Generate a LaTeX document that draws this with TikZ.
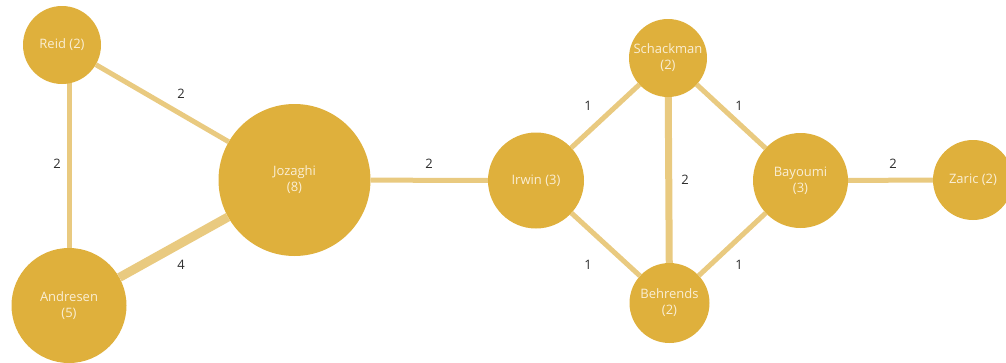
\documentclass[tikz,border=0pt]{standalone}
\usepackage{fontspec}
\setmainfont{Open Sans}
\usepackage{tikz}
\usetikzlibrary{backgrounds}
\definecolor{P}{RGB}{223,176,60}
\definecolor{E}{RGB}{233,202,128}
\definecolor{T}{RGB}{250,238,212}
\definecolor{W}{RGB}{45,45,45}
\tikzset{
  person/.style={circle,fill=P,inner sep=0pt,minimum size=#1,align=center,
    text=T,font=\fontsize{13}{16}\selectfont},
  tie/.style={draw=E,line width=#1},
  tie/.default=5pt,
  weight/.style={text=W,inner sep=0pt,font=\fontsize{13}{16}\selectfont}
}
\begin{document}
\begin{tikzpicture}[x=1pt,y=-1pt]
\useasboundingbox (0,0) rectangle (1006,362);
\node[person=78pt] (reid) at (62,45) {Reid (2)};
\node[person=115pt] (andresen) at (69,305.5) {Andresen\\(5)};
\node[person=152pt] (jozaghi) at (294.5,180) {Jozaghi\\(8)};
\node[person=96pt] (irwin) at (536,180.5) {Irwin (3)};
\node[person=78pt] (schackman) at (668,58) {Schackman\\(2)};
\node[person=80pt] (behrends) at (669.5,303) {Behrends\\(2)};
\node[person=95pt] (bayoumi) at (800.5,180.5) {Bayoumi\\(3)};
\node[person=80pt] (zaric) at (973,180) {Zaric (2)};
\begin{pgfonlayer}{background}
  \draw[tie] (reid) -- (jozaghi);
  \draw[tie] (andresen.center) -- (andresen.center |- reid.center);
  \draw[tie=9pt] (andresen) -- (jozaghi);
  \draw[tie] (jozaghi) -- (irwin);
  \draw[tie] (irwin) -- (schackman);
  \draw[tie] (irwin) -- (behrends);
  \draw[tie=7pt] (schackman) -- (behrends);
  \draw[tie] (schackman) -- (bayoumi);
  \draw[tie] (behrends) -- (bayoumi);
  \draw[tie] (bayoumi) -- (zaric);
\end{pgfonlayer}
\node[weight] (w1) at (181,94) {2};
\node[weight] (w2) at (57,164) {2};
\node[weight] (w3) at (181,265) {4};
\node[weight] (w4) at (429,164) {2};
\node[weight] (w5) at (588,106) {1};
\node[weight] (w6) at (588,265) {1};
\node[weight] (w7) at (685,180) {2};
\node[weight] (w8) at (739,106) {1};
\node[weight] (w9) at (739,265) {1};
\node[weight] (w10) at (893,164) {2};
\end{tikzpicture}
\end{document}
